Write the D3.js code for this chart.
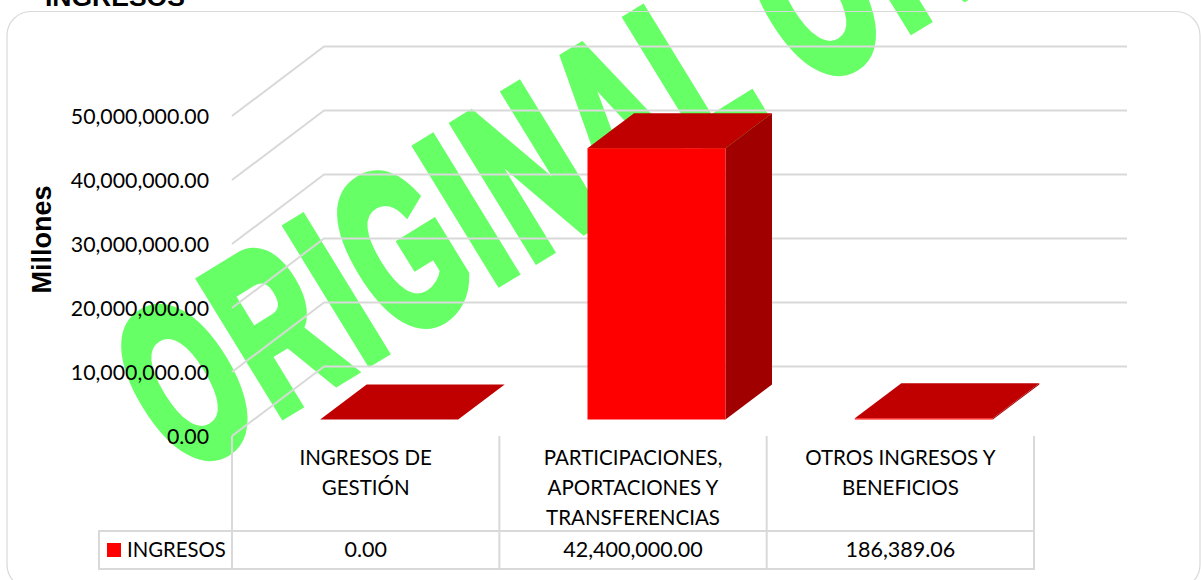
<!DOCTYPE html>
<html><head><meta charset="utf-8">
<script src="https://cdnjs.cloudflare.com/ajax/libs/d3/7.8.5/d3.min.js"></script>
<style>html,body{margin:0;padding:0;background:#fff;overflow:hidden}svg{display:block}</style>
</head><body><svg id="c" width="1201" height="580"></svg>
<script>
const categories = ["INGRESOS DE GESTIÓN","PARTICIPACIONES, APORTACIONES Y TRANSFERENCIAS","OTROS INGRESOS Y BENEFICIOS"];
const categoryLines = [["INGRESOS DE","GESTIÓN"],["PARTICIPACIONES,","APORTACIONES Y","TRANSFERENCIAS"],["OTROS INGRESOS Y","BENEFICIOS"]];
const values = [0, 42400000, 186389.06];
const yTicks = [0,10000000,20000000,30000000,40000000,50000000];
const seriesName = "INGRESOS";
const chartTitle = "INGRESOS";
const axisTitle = "Millones";
const watermark = "ORIGINAL OR";

const svg = d3.select("#c");
const TXT = "Lato, 'Open Sans', sans-serif", BOLD = "'Liberation Sans', Arial, sans-serif";
const GRID = "#d9d9d9";
const y = d3.scaleLinear().domain([0,50000000]).range([436,116]);
const x = d3.scaleBand().domain(categories).range([232,1034]).paddingInner(0).paddingOuter(0);
const depth = {dx:92, dy:-69.5};
const fmt = d3.format(",.2f");

// watermark
svg.append("g").attr("transform","translate(182,475) rotate(-31.5) scale(0.58,1)")
  .append("text").text(watermark)
  .attr("font-family",BOLD).attr("font-weight",700).attr("font-size",225)
  .attr("letter-spacing",12.5)
  .attr("fill","#66ff66").attr("stroke","#66ff66").attr("stroke-width",12).attr("stroke-linejoin","miter");

// frame
svg.append("rect").attr("x",7).attr("y",11.5).attr("width",1193).attr("height",577).attr("rx",24)
  .attr("fill","none").attr("stroke",GRID).attr("stroke-width",1.2);

// title
svg.append("text").text(chartTitle).attr("x",45).attr("y",6).attr("font-family",BOLD).attr("font-weight",700).attr("font-size",26.5).attr("fill","#000");
svg.append("text").text(axisTitle).attr("transform","translate(50.5,239.5) rotate(-90)").attr("text-anchor","middle")
  .attr("font-family",BOLD).attr("font-weight",700).attr("font-size",27).attr("fill","#000");

// grid
const grid = svg.append("g").attr("fill","none").attr("stroke",GRID).attr("stroke-width",2);
grid.selectAll("path").data(yTicks).join("path")
  .attr("d",d=>{const p=d3.path();p.moveTo(x.range()[0],y(d));p.lineTo(x.range()[0]+depth.dx,y(d)+depth.dy);p.lineTo(1127,y(d)+depth.dy);return p.toString();});

// y axis labels
const ax = svg.append("g").attr("transform","translate(209,0)")
  .call(d3.axisLeft(y).tickValues(yTicks).tickFormat(fmt).tickSize(0).tickPadding(0));
ax.select(".domain").remove();
ax.selectAll("text").attr("font-family",TXT).attr("font-size",21.3).attr("fill","#000").attr("dy",null).attr("transform","translate(0,7.5)");

// bars
const barW = 138, off = {dx:23.5, dy:-16.5}, bd = {dx:46.5, dy:-35};
const bars = svg.append("g").selectAll("g").data(categories).join("g");
bars.each(function(c,i){
  const g = d3.select(this);
  const xl = x(c)+x.bandwidth()/2-barW/2+off.dx, xr = xl+barW;
  const yb = y(0)+off.dy, yt = y(values[i])+off.dy;
  const poly = pts=>pts.map(p=>p.join(",")).join(" ");
  g.append("polygon").attr("points",poly([[xr,yt],[xr+bd.dx,yt+bd.dy],[xr+bd.dx,yb+bd.dy],[xr,yb]])).attr("fill","#a00000");
  g.append("polygon").attr("points",poly([[xl,yt],[xl+bd.dx,yt+bd.dy],[xr+bd.dx,yt+bd.dy],[xr,yt]])).attr("fill","#c00000");
  g.append("rect").attr("x",xl).attr("y",yt).attr("width",barW).attr("height",yb-yt).attr("fill","#ff0000");
});

// data table
const table = svg.append("g").attr("stroke",GRID).attr("stroke-width",2).attr("fill","none");
const tTop=531, tBot=569, tLeft=99;
table.append("rect").attr("x",tLeft).attr("y",tTop).attr("width",x.range()[1]-tLeft).attr("height",tBot-tTop);
table.selectAll("line").data(categories.map(c=>x(c))).join("line")
  .attr("x1",d=>d).attr("x2",d=>d).attr("y1",y(0)).attr("y2",tBot);
table.append("line").attr("x1",x.range()[1]).attr("x2",x.range()[1]).attr("y1",y(0)).attr("y2",tBot);

const labels = svg.append("g").attr("font-family",TXT).attr("font-size",20.5).attr("fill","#000").attr("text-anchor","middle");
categories.forEach((c,i)=>{
  categoryLines[i].forEach((l,j)=>labels.append("text").text(l).attr("x",x(c)+x.bandwidth()/2).attr("y",465+j*30));
  labels.append("text").text(fmt(values[i])).attr("x",x(c)+x.bandwidth()/2).attr("y",557).attr("font-size",21.5);
});
svg.append("rect").attr("x",107).attr("y",543).attr("width",14).attr("height",14).attr("fill","#ff0000");
svg.append("text").text(seriesName).attr("x",127).attr("y",557).attr("font-family",TXT).attr("font-size",20.3).attr("fill","#000");
</script></body></html>
